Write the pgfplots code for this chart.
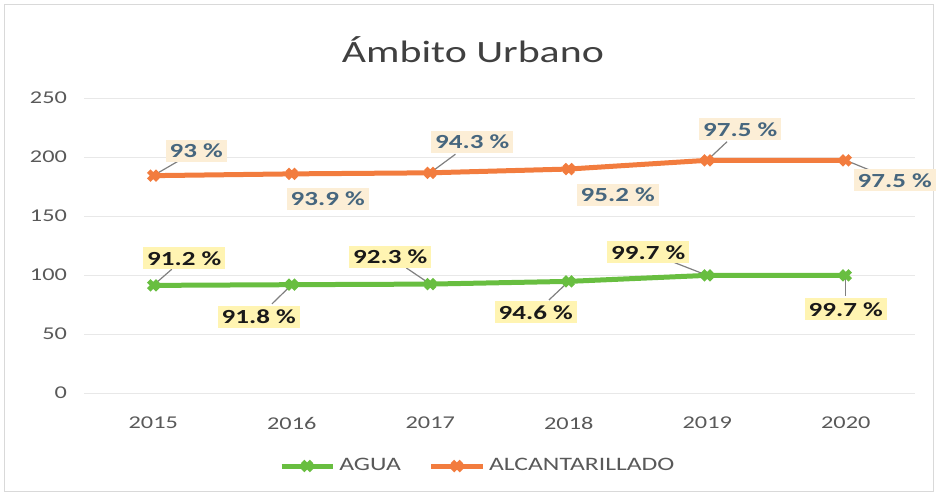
\documentclass[border=0pt]{standalone}
\usepackage{pgfplots}
\pgfplotsset{compat=1.18}
\usepackage{pgfplotstable}
\usepackage{fontspec}
\setmainfont{Carlito}[FakeStretch=1.35]

\definecolor{agua}{RGB}{104,190,64}
\definecolor{alc}{RGB}{242,124,62}
\definecolor{aguafill}{RGB}{255,244,178}
\definecolor{alcfill}{RGB}{252,238,214}
\definecolor{alctext}{RGB}{70,102,126}
\definecolor{tickgray}{RGB}{89,89,89}
\definecolor{titlegray}{RGB}{64,64,64}

% x, AGUA, ALCANTARILLADO (stacked on AGUA), label offsets in pt, leader on/off
\pgfplotstableread{
x agua alc  gdx   gdy   odx  ody   gl ol
0 91.2 93   15.5  13.5  21.5 12.5  1  1
1 91.8 93.9 -16.5 -16   18   -12.5 1  0
2 92.3 94.3 -20   13.5  21   15.5  1  1
3 94.6 95.2 -16.5 -15.5 24.5 -13   1  0
4 99.7 97.5 -29.5 11.5  16.5 15.5  1  1
5 99.7 97.5 0     -17   24.5 -10   1  1
}\datatable

\begin{document}
\begin{tikzpicture}
\path[use as bounding box] (-42pt,-51pt) rectangle (426.5pt,196.5pt);
\draw[gray!30] (-40pt,-49pt) rectangle (424.5pt,194.5pt);
\begin{axis}[
    at={(0,0)}, anchor=south west,
    scale only axis, width=415.5pt, height=147.5pt,
    xmin=-0.5, xmax=5.5, ymin=0, ymax=250,
    xtick={0,...,5}, xticklabels={2015,2016,2017,2018,2019,2020},
    ytick={0,50,...,250},
    ymajorgrids, grid style={gray!18},
    axis line style={draw=none}, major tick length=0pt,
    tick label style={font=\fontsize{9}{10}\selectfont, text=tickgray},
    /pgf/number format/assume math mode=true,
    yticklabel style={xshift=-5pt},
    xticklabel style={yshift=-8.5pt},
    legend columns=2,
    legend style={at={(0.475,0)}, anchor=center, yshift=-36.5pt, draw=none,
        font=\fontsize{9.5}{11}\selectfont, text=tickgray,
        /tikz/every even column/.append style={column sep=12pt}},
    legend image code/.code={\draw[mark repeat=2,mark phase=2]
        plot coordinates {(0cm,0cm)(0.45cm,0cm)(0.9cm,0cm)};},
    clip=false,
]
% leader lines
\addplot[quiver={u=\thisrow{gdx}*\thisrow{gl}*0.6/69.25, v=\thisrow{gdy}*\thisrow{gl}*0.6/0.59},
    gray, line width=0.6pt, -, forget plot] table[x=x, y=agua] {\datatable};
\addplot[quiver={u=\thisrow{odx}*\thisrow{ol}*0.6/69.25, v=\thisrow{ody}*\thisrow{ol}*0.6/0.59},
    gray, line width=0.6pt, -, forget plot] table[x=x, y expr=\thisrow{agua}+\thisrow{alc}] {\datatable};

\addplot[agua, line width=2.5pt, mark=x, mark size=3.2pt, mark options={solid, line width=2.5pt},
    point meta=explicit symbolic,
    visualization depends on={\thisrow{gdx} \as \lx},
    visualization depends on={\thisrow{gdy} \as \ly},
    nodes near coords={\pgfplotspointmeta{} \%},
    nodes near coords style={anchor=center, xshift=\lx pt, yshift=\ly pt,
        fill=aguafill, text=black!90, font=\fontsize{10}{11}\selectfont\bfseries, inner sep=2pt},
] table[x=x, y=agua, meta=agua] {\datatable};
\addlegendentry{AGUA}

\addplot[alc, line width=2.5pt, mark=x, mark size=3.2pt, mark options={solid, line width=2.5pt},
    point meta=explicit symbolic,
    visualization depends on={\thisrow{odx} \as \lx},
    visualization depends on={\thisrow{ody} \as \ly},
    nodes near coords={\pgfplotspointmeta{} \%},
    nodes near coords style={anchor=center, xshift=\lx pt, yshift=\ly pt,
        fill=alcfill, text=alctext, font=\fontsize{10}{11}\selectfont\bfseries, inner sep=2pt},
] table[x=x, y expr=\thisrow{agua}+\thisrow{alc}, meta=alc] {\datatable};
\addlegendentry{ALCANTARILLADO}

\node[font=\fontsize{15.5}{18}\selectfont, text=titlegray] at (rel axis cs:0.468,1) [yshift=24pt] {Ámbito Urbano};
\end{axis}
\end{tikzpicture}
\end{document}
